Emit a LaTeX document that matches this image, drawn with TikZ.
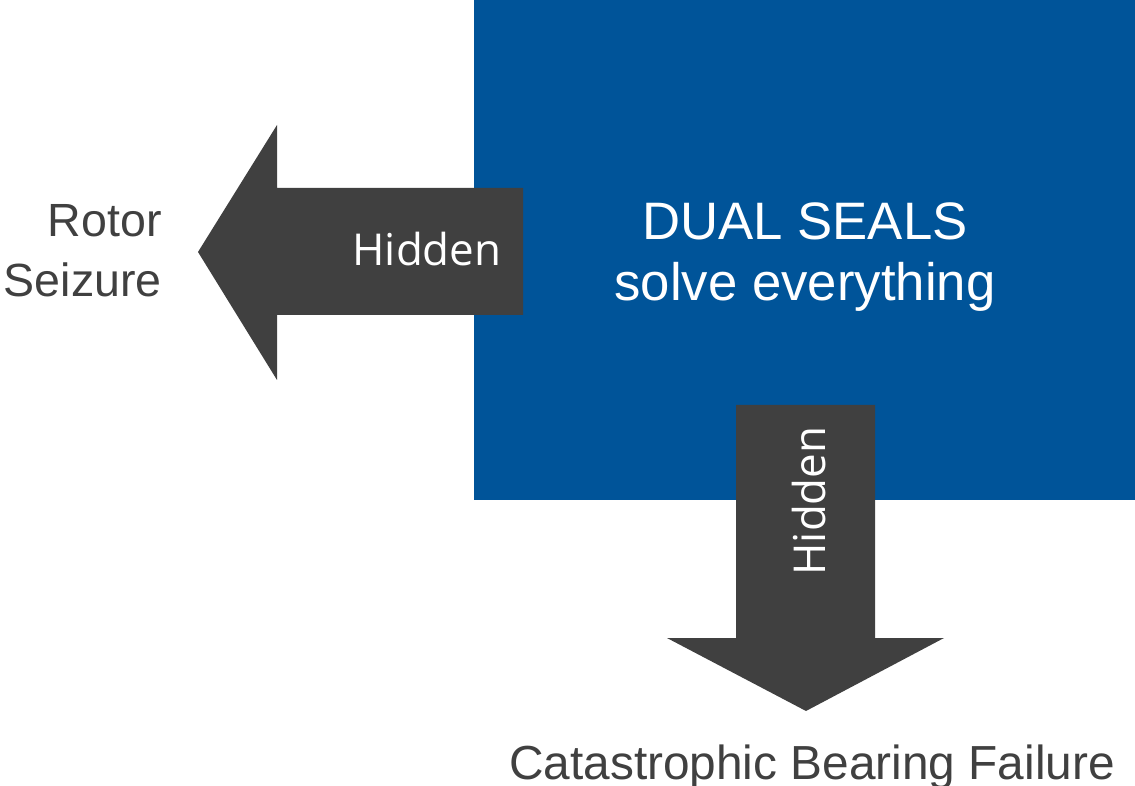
\documentclass[tikz,border=0pt]{standalone}
\usepackage{fontspec}
\setmainfont{Liberation Sans}
\newfontfamily\hiddenfont{Open Sans}
\definecolor{sealblue}{RGB}{0,84,153}
\definecolor{arrowgrey}{RGB}{64,64,64}

\begin{document}
\begin{tikzpicture}[x=0.02cm, y=-0.02cm,
    hiddenlabel/.style={text=white, inner sep=0pt, font=\hiddenfont\fontsize{25}{25}\selectfont},
    sealtext/.style={text=white, inner sep=0pt, font=\fontsize{30}{30}\selectfont},
    failtext/.style={text=arrowgrey, inner sep=0pt, font=\fontsize{26.5}{26.5}\selectfont}]
        \useasboundingbox (0,0) rectangle (1135,786);
        % seal box
        \fill[sealblue] (474,0) rectangle (1135,500);
        % left arrow
        \fill[arrowgrey] (523,188) -- (277,188) -- (277,125) -- (198,252) -- (277,380) -- (277,315) -- (523,315) -- cycle;
        % down arrow
        \fill[arrowgrey] (736,405) -- (875,405) -- (875,638) -- (944,638) -- (806,711) -- (667,638) -- (736,638) -- cycle;
        \node[hiddenlabel, anchor=base] (H1) at (427,266) {Hidden};
        \node[hiddenlabel, anchor=base, rotate=90] (H2) at (825,501) {Hidden};
        \node[sealtext, anchor=base] (S1) at (805,240) {DUAL SEALS};
        \node[sealtext, anchor=base] (S2) at (805,301) {solve everything};
        \node[failtext, anchor=base east] (R1) at (162,237) {Rotor};
        \node[failtext, anchor=base east] (R2) at (162,297) {Seizure};
        \node[failtext, anchor=base, font=\fontsize{27.2}{27.2}\selectfont] (C) at (812,779) {Catastrophic Bearing Failure};
      \end{tikzpicture}
\end{document}
